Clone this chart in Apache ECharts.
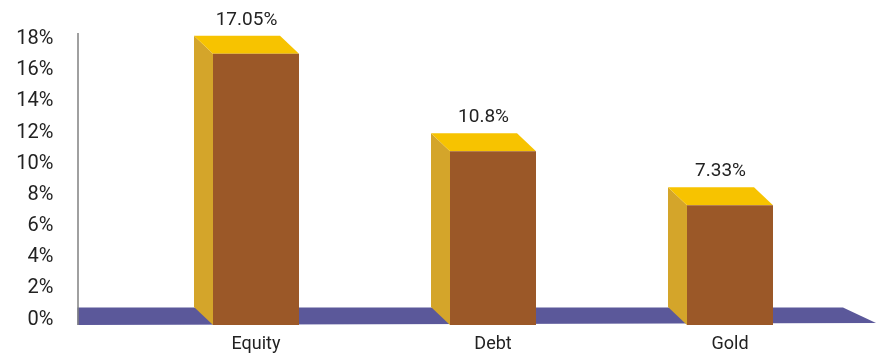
<!DOCTYPE html>
<html>
<head>
<meta charset="utf-8">
<script src="https://cdn.jsdelivr.net/npm/echarts@6/dist/echarts.min.js"></script>
<style>
html,body{margin:0;padding:0;background:#fff;}
#chart{width:876px;height:356px;}
</style>
</head>
<body>
<div id="chart"></div>
<script>
const categories = ['Equity', 'Debt', 'Gold'];
const values = [17.05, 10.8, 7.33];
const valueLabels = ['17.05%', '10.8%', '7.33%'];
const yMin = 0, yMax = 18, yStep = 2;

const FONT = 'Roboto, "Noto Sans", sans-serif';
const DX = 19, DY = 18, HALF_W = 43;

const chart = echarts.init(document.getElementById('chart'), null, {renderer: 'canvas'});

chart.setOption({
  animation: false,
  backgroundColor: '#ffffff',
  grid: {left: 137.5, right: 27.5, top: 39, bottom: 36.5},
  xAxis: {
    type: 'category',
    data: categories,
    axisLine: {show: false},
    axisTick: {show: false},
    axisLabel: {color: '#222', fontFamily: FONT, fontSize: 18, margin: 16}
  },
  yAxis: {
    type: 'value',
    min: yMin, max: yMax, interval: yStep,
    offset: 60,
    axisLine: {show: false},
    axisTick: {show: false},
    splitLine: {show: false},
    axisLabel: {color: '#222', fontFamily: FONT, fontSize: 20, margin: 24, formatter: '{value}%'}
  },
  series: [
    {
      type: 'custom',
      z: 1,
      data: [[0, 0]],
      renderItem: function (params, api) {
        const cs = params.coordSys;
        const y0 = api.coord([0, 0])[1];
        const yTop = api.coord([0, yMax])[1];
        const left = cs.x - 60;
        const rightTop = cs.x + cs.width - 5.5;
        const rightBot = cs.x + cs.width + 27.5;
        const fTop = y0 - 12, fBot = y0 + 5.5;
        return {
          type: 'group',
          children: [
            {
              type: 'polygon',
              shape: {points: [[left, fTop], [rightTop, fTop], [rightBot, fBot - 2], [left, fBot]]},
              style: {fill: '#5B589A'}
            },
            {
              type: 'line',
              shape: {x1: left + 0.5, y1: yTop - 6, x2: left + 0.5, y2: fBot},
              style: {stroke: '#808080', lineWidth: 1.5}
            }
          ]
        };
      }
    },
    {
      type: 'custom',
      z: 2,
      data: values.map((v, i) => [i, v]),
      encode: {x: 0, y: 1},
      renderItem: function (params, api) {
        const i = api.value(0);
        const p = api.coord([i, api.value(1)]);
        const base = api.coord([i, 0]);
        const xl = p[0] - HALF_W, xr = p[0] + HALF_W;
        const top = p[1], bot = base[1] + 5.5;
        return {
          type: 'group',
          children: [
            {
              type: 'polygon',
              shape: {points: [[xl - DX, top - DY], [xl, top], [xl, bot], [xl - DX, bot - DY]]},
              style: {fill: '#D4A52A'}
            },
            {
              type: 'polygon',
              shape: {points: [[xl - DX, top - DY], [xr - DX, top - DY], [xr, top], [xl, top]]},
              style: {fill: '#F7C300'}
            },
            {
              type: 'rect',
              shape: {x: xl, y: top, width: xr - xl, height: bot - top},
              style: {fill: '#9B5828'}
            },
            {
              type: 'text',
              style: {
                text: valueLabels[params.dataIndex],
                x: p[0] - 9.5, y: top - DY - 16,
                align: 'center', verticalAlign: 'middle',
                fill: '#222', font: '19px ' + FONT
              }
            }
          ]
        };
      }
    }
  ]
});
</script>
</body>
</html>
